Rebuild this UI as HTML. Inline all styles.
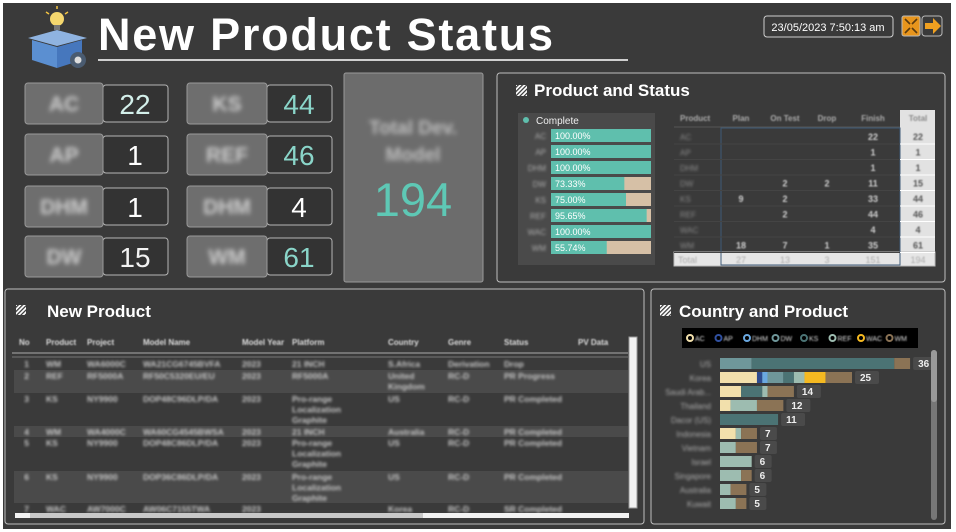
<!DOCTYPE html>
<html><head><meta charset="utf-8">
<style>
html,body{margin:0;padding:0;background:#fff;}
svg{display:block;font-family:"Liberation Sans",sans-serif;}
</style></head>
<body>
<svg id="root" width="956" height="532" viewBox="0 0 956 532" xmlns="http://www.w3.org/2000/svg">
<defs>
<filter id="blur" x="-20%" y="-50%" width="140%" height="200%"><feGaussianBlur stdDeviation="1.4"/></filter>
<filter id="blur3" x="-20%" y="-50%" width="140%" height="200%"><feGaussianBlur stdDeviation="2.4"/></filter>
<filter id="blur2" x="-20%" y="-50%" width="140%" height="200%"><feGaussianBlur stdDeviation="0.8"/></filter>
<pattern id="hatch" width="3" height="3" patternUnits="userSpaceOnUse" patternTransform="rotate(45)"><rect width="3" height="3" fill="#fff"/><rect width="1.2" height="3" fill="#333"/></pattern>
</defs>
<rect x="3" y="3" width="948" height="526" fill="#3a3a3a"/>

<g>
<circle cx="57" cy="19" r="7" fill="#f5d76e"/><rect x="54" y="25" width="6" height="5" fill="#777"/>
<line x1="57" y1="6" x2="57" y2="9" stroke="#f5c542" stroke-width="1.5"/><line x1="46" y1="12" x2="49" y2="14" stroke="#f5c542" stroke-width="1.5"/><line x1="68" y1="12" x2="65" y2="14" stroke="#f5c542" stroke-width="1.5"/>
<polygon points="28,38 57,30 87,38 57,46" fill="#8fb3e0"/>
<polygon points="32,40 57,47 57,68 32,60" fill="#5b8fd1"/>
<polygon points="57,47 82,40 82,60 57,68" fill="#4677bd"/>
<circle cx="78" cy="60" r="8" fill="#4a5b70"/><circle cx="78" cy="60" r="3.5" fill="#ddd"/>
</g>
<text x="98" y="50" font-size="45" font-weight="bold" fill="#fff" textLength="455">New Product Status</text>
<line x1="98" y1="60" x2="628" y2="60" stroke="#cfcfcf" stroke-width="2"/>
<rect x="764" y="16" width="129" height="21" rx="3" fill="#3a3a3a" stroke="#cfcfcf"/>
<text x="828" y="31" font-size="11" fill="#fff" text-anchor="middle">23/05/2023 7:50:13 am</text>
<g>
<rect x="902" y="16" width="18" height="20" rx="2" fill="#e8951c" stroke="#bbb"/>
<path d="M905 19l5 5M917 19l-5 5M905 33l5-5M917 33l-5-5" stroke="#5a3a10" stroke-width="1.6"/>
</g>
<g>
<rect x="922" y="16" width="20" height="20" rx="3" fill="#3a3a3a" stroke="#bbb"/>
<path d="M925 23h8v-5l8 8-8 8v-5h-8z" fill="#f0a020"/>
</g>

<g id="kpis"></g>
<g>
<rect x="344" y="73" width="139" height="209" rx="2" fill="#6c6c6c" stroke="#9a9a9a"/>
<text x="413" y="134" font-size="19" font-weight="bold" fill="#bdbdbd" text-anchor="middle" filter="url(#blur3)">Total Dev.</text>
<text x="413" y="161" font-size="19" font-weight="bold" fill="#bdbdbd" text-anchor="middle" filter="url(#blur3)">Model</text>
<text x="413" y="216" font-size="47" fill="#5ec8b5" text-anchor="middle">194</text>
</g>

<rect x="497" y="73" width="448" height="209" rx="3" fill="#3a3a3a" stroke="#bdbdbd"/>
<rect x="516" y="85" width="11" height="11" fill="url(#hatch)"/>
<text x="534" y="96" font-size="17" font-weight="bold" fill="#fff">Product and Status</text>
<rect x="518" y="113" width="137" height="152" fill="#4a4a4a"/>
<circle cx="526" cy="120" r="3" fill="#5fbfad"/>
<text x="536" y="124" font-size="10" fill="#eee">Complete</text>
<g id="pbars"></g>
<g id="matrix"></g>

<rect x="5" y="289" width="639" height="235" rx="3" fill="#3a3a3a" stroke="#bdbdbd"/>
<rect x="16" y="305" width="10" height="10" fill="url(#hatch)"/>
<text x="47" y="317" font-size="17" font-weight="bold" fill="#fff">New Product</text>
<g id="table"></g>

<rect x="651" y="289" width="294" height="235" rx="3" fill="#3a3a3a" stroke="#bdbdbd"/>
<rect x="660" y="305" width="11" height="11" fill="url(#hatch)"/>
<text x="679" y="317" font-size="17" font-weight="bold" fill="#fff">Country and Product</text>
<rect x="682" y="328" width="236" height="20" fill="#000"/>
<g id="clegend"></g>
<g id="cbars"></g>
<rect x="931" y="350" width="6" height="170" rx="3" fill="#777"/>
<rect x="931" y="350" width="6" height="52" rx="3" fill="#999"/>
</svg>
<script>
const NS="http://www.w3.org/2000/svg";
function mk(parent,tag,attrs,text){const e=document.createElementNS(NS,tag);for(const k in attrs)e.setAttribute(k,attrs[k]);if(text!==undefined)e.textContent=text;parent.appendChild(e);return e;}

const kpiLabels=["AC","AP","DHM","DW","KS","REF","DHM","WM"];
const kpiValues=[22,1,1,15,44,46,4,61];
const kpiColors=["#d3efea","#ffffff","#ffffff","#f2f2f2","#8ad5c9","#8ad5c9","#ffffff","#8ad5c9"];
const kpiG=document.getElementById('kpis');
const rowYs=[83,134,186,236];
kpiLabels.forEach((lab,i)=>{
  const col=i<4?0:1, r=i%4;
  const lx=col?187:25, vx=col?267:103, y=rowYs[r];
  const g=mk(kpiG,'g',{});
  
  
  mk(g,'rect',{x:vx,y:y+2,width:65,height:37,rx:3,fill:'#333',stroke:'#b5b5b5'});
  mk(g,'rect',{x:lx,y:y,width:vx-lx,height:41,rx:3,fill:'#6e6e6e',stroke:'#999'});
  mk(g,'text',{x:(lx+vx)/2,y:y+28,'font-size':21,'font-weight':'bold',fill:'#cfcfcf','text-anchor':'middle',filter:'url(#blur3)'},lab);
  const t=mk(g,'text',{x:vx+32,y:y+31,'font-size':28,fill:kpiColors[i],'text-anchor':'middle'},String(kpiValues[i]));
  
  
});

const prodCats=["AC","AP","DHM","DW","KS","REF","WAC","WM"];
const completePct=[100,100,100,73.33,75,95.65,100,55.74];
const pb=document.getElementById('pbars');
const px0=551,pw=100;
function pX(v){return px0+v/100*pw;}
prodCats.forEach((c,i)=>{
  const y=129+i*16;
  mk(pb,'text',{x:546,y:y+10,'font-size':8,fill:'#aaa','text-anchor':'end',filter:'url(#blur)'},c);
  const bg=mk(pb,'rect',{x:px0,y:y,width:pw,height:13,fill:'#d6c0a6'});
  
  
  const b=mk(pb,'rect',{x:px0,y:y,width:pX(completePct[i])-px0,height:13,fill:'#5fbfad'});
  
  
  mk(pb,'text',{x:px0+4,y:y+10,'font-size':9,fill:'#fff'},completePct[i].toFixed(2)+'%');
});

const mHeaders=["Product","Plan","On Test","Drop","Finish","Total"];
const mPlan=[null,null,null,null,9,null,null,18];
const mOnTest=[null,null,null,2,2,2,null,7];
const mDrop=[null,null,null,2,null,null,null,1];
const mFinish=[22,1,1,11,33,44,4,35];
const mTotal=[22,1,1,15,44,46,4,61];
const mTotalsRow=["Total",27,13,3,151,194];
const mg=document.getElementById('matrix');
const mcx=[680,741,785,827,873,918];
mk(mg,'rect',{x:900,y:110,width:35,height:156,fill:'#e2e2e2'});
mk(mg,'rect',{x:674,y:252,width:261,height:14,fill:'#e6e6e6',stroke:'#bbb'});
mk(mg,'rect',{x:721,y:128,width:179,height:137,fill:'none',stroke:'#3d5a78'});
mHeaders.forEach((h,j)=>{
  const t=mk(mg,'text',{x:j?mcx[j]:680,y:121,'font-size':8,'font-weight':'bold',fill:j==5?'#888':'#aaa','text-anchor':j?'middle':'start',filter:'url(#blur2)'},h);
  
  
});
mk(mg,'line',{x1:674,y1:127,x2:900,y2:127,stroke:'#555'});
prodCats.forEach((c,i)=>{
  const y=137+i*15.5;
  mk(mg,'line',{x1:674,y1:y+7,x2:900,y2:y+7,stroke:'#444'});
  mk(mg,'line',{x1:900,y1:y+7,x2:935,y2:y+7,stroke:'#fff'});
  mk(mg,'text',{x:680,y:y+3,'font-size':8,fill:'#888',filter:'url(#blur)'},c);
  const vals=[mPlan[i],mOnTest[i],mDrop[i],mFinish[i],mTotal[i]];
  vals.forEach((v,j)=>{
    if(v===null)return;
    mk(mg,'text',{x:mcx[j+1],y:y+3,'font-size':9,'font-weight':'bold',fill:j==4?'#555':'#ccc','text-anchor':'middle',filter:'url(#blur2)'},String(v));
  });
});
mTotalsRow.forEach((v,j)=>{
  mk(mg,'text',{x:j?mcx[j]:678,y:263,'font-size':9,fill:'#aaa','text-anchor':j?'middle':'start',filter:'url(#blur2)'},String(v));
});

const tHeaders=["No","Product","Project","Model Name","Model Year","Platform","Country","Genre","Status","PV Data"];
const tCols=[19,46,87,143,242,292,388,448,504,578];
const tRows=[
 ["1","WM","WA6000C","WA21CG6745BVFA","2023","21 INCH","S.Africa","Derivation","Drop",""],
 ["2","REF","RF5000A","RF50C5320EU/EU","2023","RF5000A","United Kingdom","RC-D","PR Progress",""],
 ["3","KS","NY9900","DOP48C96DLP/DA","2023","Pro-range Localization Graphite","US","RC-D","PR Completed",""],
 ["4","WM","WA4000C","WA60CG4545BWSA","2023","21 INCH","Australia","RC-D","PR Completed",""],
 ["5","KS","NY9900","DOP48C86DLP/DA","2023","Pro-range Localization Graphite","US","RC-D","PR Completed",""],
 ["6","KS","NY9900","DOP36C86DLP/DA","2023","Pro-range Localization Graphite","US","RC-D","PR Completed",""],
 ["7","WAC","AW7000C","AW06C7155TWA","2023","","Korea","RC-D","SR Completed",""]
];
const rowTops=[358,370,393,426,437,471,503];
const rowBots=[370,393,426,437,471,503,512];
const tg=document.getElementById('table');
tRows.forEach((r,i)=>{
  const rr=mk(tg,'rect',{x:14,y:rowTops[i],width:614,height:Math.min(rowBots[i],512)-rowTops[i],fill:i%2?'#4a4a4a':'#3a3a3a'});
  
  
});
tHeaders.forEach((h,j)=>{
  mk(tg,'text',{x:tCols[j],y:345,'font-size':8,'font-weight':'bold',fill:'#ddd',filter:'url(#blur2)'},h);
});
mk(tg,'line',{x1:12,y1:353,x2:628,y2:353,stroke:'#aaa','stroke-width':1});
mk(tg,'line',{x1:12,y1:357,x2:628,y2:357,stroke:'#777','stroke-width':1});
tRows.forEach((r,i)=>{
  r.forEach((v,j)=>{
    if(!v)return;
    const words=(j==5&&v.startsWith('Pro'))?v.split(' '):(j==6&&v.length>10?['United','Kingdom']:[v]);
    words.forEach((w,k)=>{
      mk(tg,'text',{x:j==0?tCols[0]+10:tCols[j],y:rowTops[i]+9+k*10.5,'font-size':8.5,'font-weight':'bold',fill:'#c4c4c4','text-anchor':j==0?'end':'start',filter:'url(#blur)'},w);
    });
  });
});
const vs=mk(tg,'rect',{x:629,y:337,width:8,height:171,fill:'#f2f2f2',stroke:'#999'});


const hs=mk(tg,'rect',{x:15,y:513,width:614,height:5,fill:'#f2f2f2'});


mk(tg,'rect',{x:30,y:513,width:393,height:5,fill:'#c8c8c8'});

const countries=["US","Korea","Saudi Arabia","Thailand","Dacor (US)","Indonesia","Vietnam","Israel","Singapore","Australia","Kuwait"];
const seriesNames=["AC","AP","DHM","DW","KS","REF","WAC","WM"];
const seriesColors=["#f2e0ac","#2d4b8e","#6aa8e0","#6f979a","#4b7374","#9dbcb0","#f5b921","#8b7355"];
const sAC=[0,7,4,2,0,3,0,0,0,0,0];
const sAP=[0,1,0,0,0,0,0,0,0,0,0];
const sDHM=[0,1,0,0,0,0,0,0,0,0,0];
const sDW=[6,3,0,0,0,0,0,0,0,0,0];
const sKS=[27,2,4,0,11,0,0,0,0,0,0];
const sREF=[0,2,1,5,0,1,3,6,4,2,3];
const sWAC=[0,4,0,0,0,0,0,0,0,0,0];
const sWM=[3,5,5,5,0,3,4,0,2,3,2];
const seriesVals=[sAC,sAP,sDHM,sDW,sKS,sREF,sWAC,sWM];
const cx0=720,cUnit=5.28;
function cX(v){return cx0+v*cUnit;}
function cY(i){return 358+i*14;}
const cl=document.getElementById('clegend');
seriesNames.forEach((s,k)=>{
  const x=690+k*28.5;
  mk(cl,'circle',{cx:x,cy:338,r:3,fill:'none',stroke:seriesColors[k]==="#2d4b8e"?"#3050a0":seriesColors[k],'stroke-width':2});
  mk(cl,'text',{x:x+5,y:341,'font-size':7,fill:'#ddd',filter:'url(#blur2)'},s);
});
const cb=document.getElementById('cbars');
countries.forEach((c,i)=>{
  const y=cY(i);
  mk(cb,'text',{x:711,y:y+9,'font-size':8,fill:'#aaa','text-anchor':'end',filter:'url(#blur)'},c.length>10?c.slice(0,10)+'...':c);
  let acc=0;
  seriesVals.forEach((arr,k)=>{
    const v=arr[i];if(!v)return;
    const r=mk(cb,'rect',{x:cX(acc),y:y,width:cX(acc+v)-cX(acc),height:11,fill:seriesColors[k]});
    
    
    acc+=v;
  });
  const lx=cX(acc)+3;
  mk(cb,'rect',{x:lx,y:y-1,width:String(acc).length*7+10,height:13,rx:2,fill:'#4a4a4a'});
  const t=mk(cb,'text',{x:lx+5,y:y+9,'font-size':10,'font-weight':'bold',fill:'#eee'},String(acc));
  
  
});
</script>
</body></html>
